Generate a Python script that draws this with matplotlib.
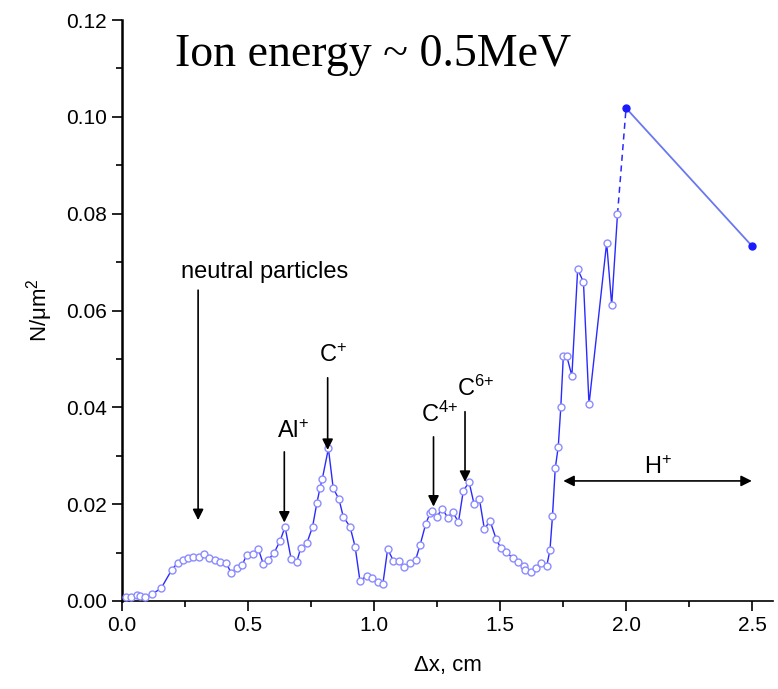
import matplotlib
matplotlib.use("Agg")
import matplotlib.pyplot as plt
from matplotlib.ticker import MultipleLocator, FormatStrFormatter

# measured points (open circles)
dx = [0.015, 0.035, 0.058, 0.071, 0.091, 0.118, 0.155, 0.197, 0.221, 0.241,
      0.262, 0.283, 0.307, 0.327, 0.345, 0.369, 0.389, 0.413, 0.433, 0.455,
      0.477, 0.495, 0.519, 0.541, 0.561, 0.581, 0.604, 0.627, 0.647, 0.671,
      0.693, 0.709, 0.733, 0.756, 0.773, 0.786, 0.795, 0.819, 0.838, 0.861,
      0.878, 0.905, 0.925, 0.944, 0.971, 0.991, 1.015, 1.035, 1.054, 1.077,
      1.099, 1.119, 1.143, 1.165, 1.183, 1.205, 1.222, 1.231, 1.249, 1.271,
      1.292, 1.312, 1.335, 1.354, 1.377, 1.397, 1.418, 1.438, 1.460, 1.484,
      1.503, 1.524, 1.550, 1.573, 1.595, 1.599, 1.622, 1.643, 1.663, 1.685,
      1.698, 1.708, 1.719, 1.731, 1.741, 1.751, 1.765, 1.785, 1.808, 1.831,
      1.853, 1.923, 1.943, 1.966]
n = [0.0009, 0.0008, 0.0012, 0.0010, 0.0008, 0.0014, 0.0026, 0.0064, 0.0079, 0.0085,
     0.0089, 0.0091, 0.0091, 0.0097, 0.0088, 0.0085, 0.0081, 0.0079, 0.0058, 0.0068,
     0.0075, 0.0095, 0.0097, 0.0107, 0.0076, 0.0085, 0.0100, 0.0124, 0.0153, 0.0087,
     0.0080, 0.0109, 0.0119, 0.0153, 0.0202, 0.0234, 0.0253, 0.0315, 0.0233, 0.0210,
     0.0174, 0.0153, 0.0112, 0.0042, 0.0052, 0.0047, 0.0040, 0.0035, 0.0107, 0.0083,
     0.0083, 0.0071, 0.0078, 0.0085, 0.0116, 0.0159, 0.0181, 0.0186, 0.0174, 0.0191,
     0.0172, 0.0184, 0.0163, 0.0227, 0.0246, 0.0200, 0.0211, 0.0148, 0.0166, 0.0129,
     0.0109, 0.0101, 0.0089, 0.0081, 0.0072, 0.0064, 0.0059, 0.0068, 0.0078, 0.0072,
     0.0105, 0.0175, 0.0274, 0.0319, 0.0400, 0.0505, 0.0505, 0.0465, 0.0685, 0.0659,
     0.0406, 0.0740, 0.0611, 0.0799]

# filled points (H+ tail)
dx_h = [2.0, 2.5]
n_h = [0.1018, 0.0733]

plt.rcParams['font.family'] = ["Liberation Sans", "DejaVu Sans"]
plt.rcParams['mathtext.fontset'] = 'custom'
plt.rcParams['mathtext.rm'] = 'Liberation Sans'
plt.rcParams['mathtext.it'] = 'Liberation Sans:italic'
plt.rcParams['mathtext.default'] = 'regular'

fig = plt.figure(figsize=(7.78, 6.89), dpi=100)
ax = fig.add_axes([122/778, 1 - 601/689, 651/778, 581/689])

ax.plot(dx, n, color='#2a2aff', lw=1.0, marker='o', ms=5, mfc='white',
        mec='#8c8cff', mew=1.0, zorder=3)
ax.plot([dx[-1], dx_h[0]], [n[-1], n_h[0]], color='#2a2aff', lw=1.1,
        ls=(0, (4, 3)), zorder=2)
ax.plot(dx_h, n_h, color='#6a78f0', lw=1.3, marker='o', ms=5, mfc='#1a1aff',
        mec='#1a1aff', zorder=3)

ax.set_xlim(0, 2.583)
ax.set_ylim(0, 0.12)
ax.xaxis.set_major_locator(MultipleLocator(0.5))
ax.xaxis.set_minor_locator(MultipleLocator(0.25))
ax.yaxis.set_major_locator(MultipleLocator(0.02))
ax.yaxis.set_minor_locator(MultipleLocator(0.01))
ax.xaxis.set_major_formatter(FormatStrFormatter('%.1f'))
ax.yaxis.set_major_formatter(FormatStrFormatter('%.2f'))
ax.tick_params(which='major', direction='out', length=7, width=1.2, pad=4,
               labelsize=15)
ax.tick_params(which='minor', direction='out', length=4, width=1.2)

for s in ['top', 'right']:
    ax.spines[s].set_visible(False)
ax.spines['left'].set_linewidth(1.8)
ax.spines['bottom'].set_linewidth(1.2)

ax.set_xlabel('\u0394x, cm', fontsize=16, labelpad=14)
ax.set_ylabel('N/\u03bcm$^{2}$', fontsize=16, labelpad=8)

fig.text(175/778, 1 - 55/689, 'Ion energy ~ 0.5MeV', fontsize=33,
         family=['Liberation Serif', 'DejaVu Serif'], va='center', ha='left')

arrow = dict(arrowstyle='-|>', color='black', lw=1.2, mutation_scale=16,
             shrinkA=0, shrinkB=0)
ax.annotate('', xy=(0.302, 0.0167), xytext=(0.302, 0.0642), arrowprops=arrow)
ax.text(0.567, 0.0680, 'neutral particles', fontsize=17, ha='center', va='center')
ax.annotate('', xy=(0.644, 0.0162), xytext=(0.644, 0.0308), arrowprops=arrow)
ax.text(0.680, 0.0349, 'Al$^{{+}}$', fontsize=17, ha='center', va='center')
ax.annotate('', xy=(0.816, 0.0312), xytext=(0.816, 0.0461), arrowprops=arrow)
ax.text(0.837, 0.0506, 'C$^{{+}}$', fontsize=17, ha='center', va='center')
ax.annotate('', xy=(1.236, 0.0195), xytext=(1.236, 0.0339), arrowprops=arrow)
ax.text(1.262, 0.0386, 'C$^{4{+}}$', fontsize=17, ha='center', va='center')
ax.annotate('', xy=(1.361, 0.0246), xytext=(1.361, 0.0391), arrowprops=arrow)
ax.text(1.405, 0.0440, 'C$^{6{+}}$', fontsize=17, ha='center', va='center')
ax.annotate('', xy=(1.751, 0.0248), xytext=(2.499, 0.0248),
            arrowprops=dict(arrowstyle='<|-|>', color='black', lw=1.2,
                            mutation_scale=16, shrinkA=0, shrinkB=0))
ax.text(2.127, 0.0275, 'H$^{{+}}$', fontsize=17, ha='center', va='center')

fig.savefig('out.png', dpi=100)
